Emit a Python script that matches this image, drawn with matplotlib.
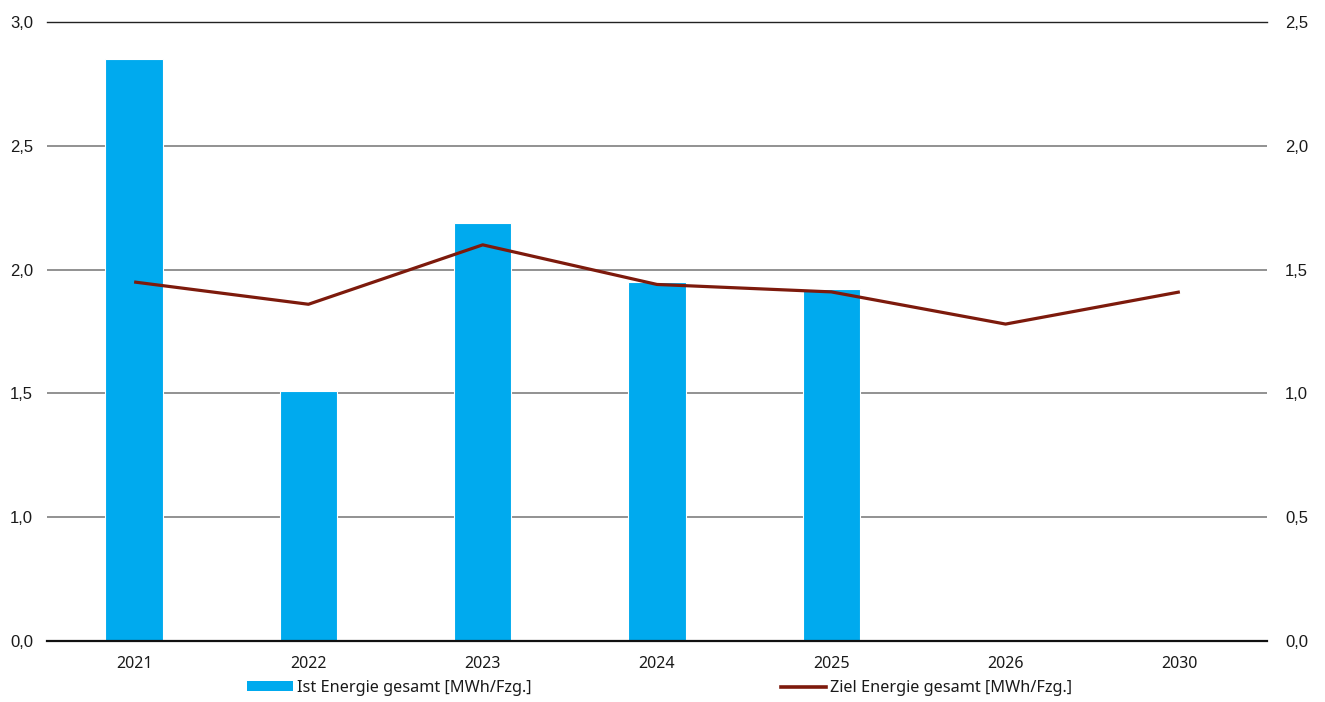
import numpy as np
import matplotlib
matplotlib.use("Agg")
import matplotlib.pyplot as plt
from matplotlib.patches import Patch
from matplotlib.lines import Line2D

years = ["2021", "2022", "2023", "2024", "2025", "2026", "2030"]
ist_energie = [2.85, 1.51, 2.19, 1.95, 1.92]           # linke Achse
ziel_energie = [1.45, 1.36, 1.60, 1.44, 1.41, 1.28, 1.41]  # rechte Achse

left_ticks = [0.5, 1.0, 1.5, 2.0, 2.5, 3.0]
left_labels = ["0,0", "1,0", "1,5", "2,0", "2,5", "3,0"]
right_ticks = [0.0, 0.5, 1.0, 1.5, 2.0, 2.5]
right_labels = ["0,0", "0,5", "1,0", "1,5", "2,0", "2,5"]

BLUE = "#00aaee"
RED = "#7d1a0c"
TXT = "#1a1a1a"

fig = plt.figure(figsize=(13.25, 7.02), dpi=100)
ax = fig.add_axes([47 / 1325, 1 - 641 / 702, 1220 / 1325, 619 / 702])
ax2 = ax.twinx()

x = np.arange(len(years))

# Gitterlinien
for v in left_ticks[1:-1]:
    ax.axhline(v, color="#7f7f7f", lw=1.2, zorder=1)
ax.axhline(3.0, color="#222222", lw=1.0, zorder=1, clip_on=False)
ax.axhline(0.5, color="#111111", lw=1.6, zorder=4, clip_on=False)

ax.bar(x[:len(ist_energie)], ist_energie, width=0.33, color=BLUE,
       edgecolor="white", linewidth=0.8, zorder=2)
ax2.plot(x, ziel_energie, color=RED, lw=2.3, solid_capstyle="butt", zorder=3)

ax.set_xlim(-0.5, len(years) - 0.5)
ax.set_ylim(0.5, 3.0)
ax2.set_ylim(0.0, 2.5)
ax.set_yticks(left_ticks)
ax.set_yticklabels(left_labels, fontfamily="Liberation Sans", fontsize=12, color=TXT)
ax2.set_yticks(right_ticks)
ax2.set_yticklabels(right_labels, fontfamily="Liberation Sans", fontsize=12, color=TXT)
ax.set_xticks(x)
ax.set_xticklabels(years, fontfamily="Noto Sans", fontsize=11.5, color=TXT)

ax.tick_params(axis="y", length=0, pad=10)
ax2.tick_params(axis="y", length=0, pad=13)
ax.tick_params(axis="x", length=0, pad=11)
for a in (ax, ax2):
    for s in a.spines.values():
        s.set_visible(False)
ax.patch.set_visible(False)
ax2.patch.set_visible(False)
ax2.set_zorder(ax.get_zorder() + 1)

handles = [Patch(facecolor=BLUE, edgecolor="none"),
           Line2D([0], [0], color=RED, lw=2.6)]
labels = ["Ist Energie gesamt [MWh/Fzg.]", "Ziel Energie gesamt [MWh/Fzg.]"]
fig.legend(handles, labels, loc="center", bbox_to_anchor=(0.498, 0.02), ncol=2,
           frameon=False, prop={"family": "Noto Sans", "size": 11.7},
           handlelength=2.8, handleheight=0.6, handletextpad=0.25,
           columnspacing=15.35, labelcolor=TXT)

fig.savefig("out.png", dpi=100)
